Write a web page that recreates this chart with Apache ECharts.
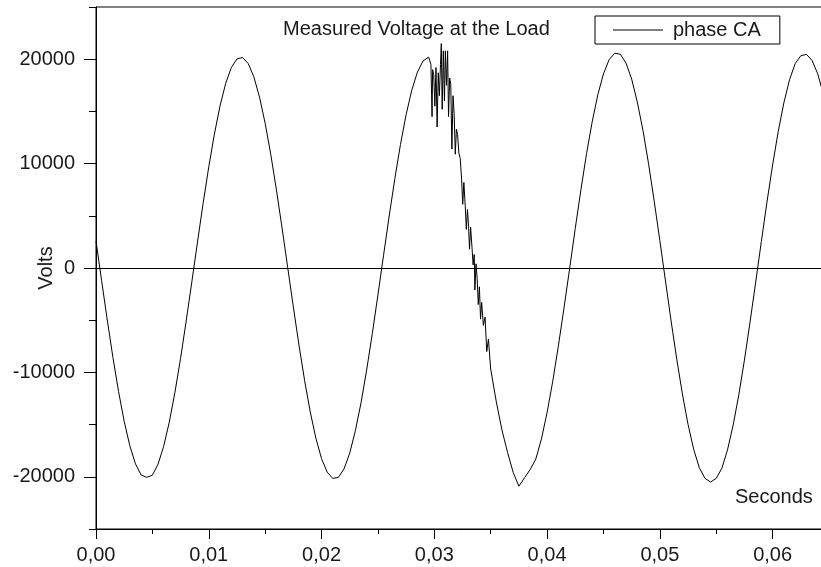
<!DOCTYPE html>
<html>
<head>
<meta charset="utf-8">
<script src="https://cdn.jsdelivr.net/npm/echarts@6/dist/echarts.min.js"></script>
<style>
  html, body { margin: 0; padding: 0; background: #fff; }
  #main { width: 821px; height: 567px; }
</style>
</head>
<body>
<div id="main"></div>
<script>
// sample times (ms) and measured voltage
var timeMs = [
  0, 0.5, 1, 1.5, 2, 2.5, 3, 3.5, 4, 4.5, 5, 5.5, 6, 6.5, 7, 7.5, 8, 8.5, 9, 9.5,
  10, 10.5, 11, 11.5, 12, 12.5, 13, 13.5, 14, 14.5, 15, 15.5, 16, 16.5, 17, 17.5, 18, 18.5, 19, 19.5,
  20, 20.5, 21, 21.5, 22, 22.5, 23, 23.5, 24, 24.5, 25, 25.5, 26, 26.5, 27, 27.5, 28, 28.5, 29, 29.5,
  // disturbance
  29.7, 29.8, 29.85, 29.95, 30.05, 30.15, 30.25, 30.35, 30.45, 30.55, 30.62, 30.7, 30.8, 30.9, 30.98,
  31.08, 31.18, 31.26, 31.36, 31.46, 31.56, 31.66, 31.76, 31.86, 31.96, 32.06, 32.18, 32.3, 32.42, 32.52,
  32.62, 32.74, 32.84, 32.94, 33.04, 33.12, 33.22, 33.34, 33.44, 33.54, 33.6, 33.7, 33.8, 33.9, 34.0,
  34.1, 34.2, 34.35, 34.5, 34.65, 34.8,
  35, 35.5, 36, 36.5, 37, 37.5, 38, 38.5, 39, 39.5,
  40, 40.5, 41, 41.5, 42, 42.5, 43, 43.5, 44, 44.5, 45, 45.5, 46, 46.5, 47, 47.5, 48, 48.5, 49, 49.5,
  50, 50.5, 51, 51.5, 52, 52.5, 53, 53.5, 54, 54.5, 55, 55.5, 56, 56.5, 57, 57.5, 58, 58.5, 59, 59.5,
  60, 60.5, 61, 61.5, 62, 62.5, 63, 63.5, 64, 64.5, 65
];
var volts = [
  2580, -1220, -4980, -8560, -11830, -14690, -17030, -18760, -19830, -20050, -19850, -18800, -17080, -14760, -11910, -8650, -5070, -1320, 2480, 6200,
  9690, 12830, 15530, 17680, 19200, 20030, 20160, 19580, 18300, 16370, 13860, 10870, 7480, 3830, 50, -3740, -7390, -10780, -13790, -16310,
  -18260, -19550, -20160, -20050, -19230, -17730, -15590, -12920, -9780, -6290, -2580, 1220, 4980, 8560, 11830, 14690, 17030, 18760, 19830, 20200,
  19500, 14500, 19000, 18500, 15500, 19200, 13500, 18700, 16500, 19500, 21500, 15200, 20800, 16000, 20800,
  17500, 20800, 14500, 18200, 17600, 11400, 16500, 14800, 10900, 13300, 12800, 11000, 10500, 8500, 6100,
  8200, 6000, 3700, 5600, 4000, 1800, 3900, 2000, 300, 1300, -2100, 400, -1000, -3500, -1800,
  -4900, -3300, -5500, -4700, -8000, -6800,
  -9690, -12830, -15530, -17680, -19600, -20900, -20100, -19300, -18300, -16370,
  -13860, -10870, -7480, -3830, -50, 3800, 7500, 10950, 14000, 16600, 18600, 19950, 20580, 20470, 19630, 18100, 15900, 13200, 9980, 6400,
  2630, -1250, -5080, -8730, -12070, -14980, -17370, -19130, -20150, -20500, -20150, -19180, -17420, -15060, -12150, -8820, -5170, -1350, 2530, 6320,
  9880, 13090, 15840, 18030, 19580, 20330, 20470, 19880, 18600, 16650, 14100
];

var yLabelValues = [-20000, -10000, 0, 10000, 20000];

var FONT = 'Liberation Sans';
var TXT = '#1a1a1a';

var chart = echarts.init(document.getElementById('main'));

var option = {
    animation: false,
    backgroundColor: '#fff',
    title: [
        {
            text: 'Measured Voltage at the Load',
            left: 283,
            top: 19,
            padding: 0,
            textStyle: { fontFamily: FONT, fontSize: 20, fontWeight: 'normal', color: TXT }
        },
        {
            text: 'Seconds',
            left: 735,
            top: 487,
            padding: 0,
            textStyle: { fontFamily: FONT, fontSize: 20, fontWeight: 'normal', color: TXT }
        }
    ],
    legend: {
        data: ['phase CA'],
        left: 595,
        top: 16,
        padding: [4, 19, 4, 18],
        borderColor: '#000',
        borderWidth: 1,
        borderRadius: 0,
        icon: 'rect',
        itemWidth: 50,
        itemHeight: 1,
        itemStyle: { color: '#000' },
        textStyle: { fontFamily: FONT, fontSize: 20, color: TXT, padding: [0, 0, 0, 5] }
    },
    grid: {
        left: 96,
        right: -8,
        top: 7,
        bottom: 38,
        outerBoundsMode: 'none',
        containLabel: false,
        show: true,
        borderColor: '#000',
        borderWidth: 1,
        backgroundColor: 'transparent'
    },
    xAxis: [
        {
            type: 'value',
            min: 0,
            max: 0.065,
            interval: 0.01,
            axisLine: { show: true, onZero: false, lineStyle: { color: '#000', width: 1 } },
            axisTick: { show: true, inside: false, length: 10, lineStyle: { color: '#000' } },
            minorTick: { show: true, splitNumber: 2, length: 5, lineStyle: { color: '#000' } },
            splitLine: { show: false },
            axisLabel: {
                margin: 16,
                showMaxLabel: false,
                fontFamily: FONT,
                fontSize: 20,
                color: TXT,
                formatter: function (v) { return v.toFixed(2).replace('.', ','); }
            }
        }
    ],
    yAxis: [
        {
            type: 'value',
            min: -25000,
            max: 25000,
            interval: 5000,
            name: 'Volts',
            nameLocation: 'middle',
            nameRotate: 90,
            nameGap: 40,
            nameMoveOverlap: false,
            nameTextStyle: { fontFamily: FONT, fontSize: 20, color: TXT },
            axisLine: { show: true, onZero: false, lineStyle: { color: '#000', width: 1 } },
            axisTick: { show: true, length: 7, lineStyle: { color: '#000' } },
            splitLine: { show: false },
            axisLabel: {
                margin: 21,
                fontFamily: FONT,
                fontSize: 20,
                color: TXT,
                formatter: function (v) { return yLabelValues.indexOf(v) >= 0 ? String(v) : ''; }
            }
        },
        {
            type: 'value',
            position: 'left',
            min: -25000,
            max: 25000,
            axisLine: { show: false },
            axisTick: { show: true, length: 12, customValues: yLabelValues, lineStyle: { color: '#000' } },
            axisLabel: { show: false },
            splitLine: { show: false }
        }
    ],
    series: [
        {
            name: 'phase CA',
            type: 'line',
            xAxisIndex: 0,
            yAxisIndex: 0,
            showSymbol: false,
            symbol: 'none',
            color: '#000',
            lineStyle: { color: '#000', width: 1 },
            data: timeMs.map(function (t, i) { return [t / 1000, volts[i]]; }),
            markLine: {
                silent: true,
                symbol: 'none',
                label: { show: false },
                lineStyle: { color: '#000', width: 1, type: 'solid' },
                data: [{ yAxis: 0 }]
            }
        }
    ]
};

chart.setOption(option);
</script>
</body>
</html>
